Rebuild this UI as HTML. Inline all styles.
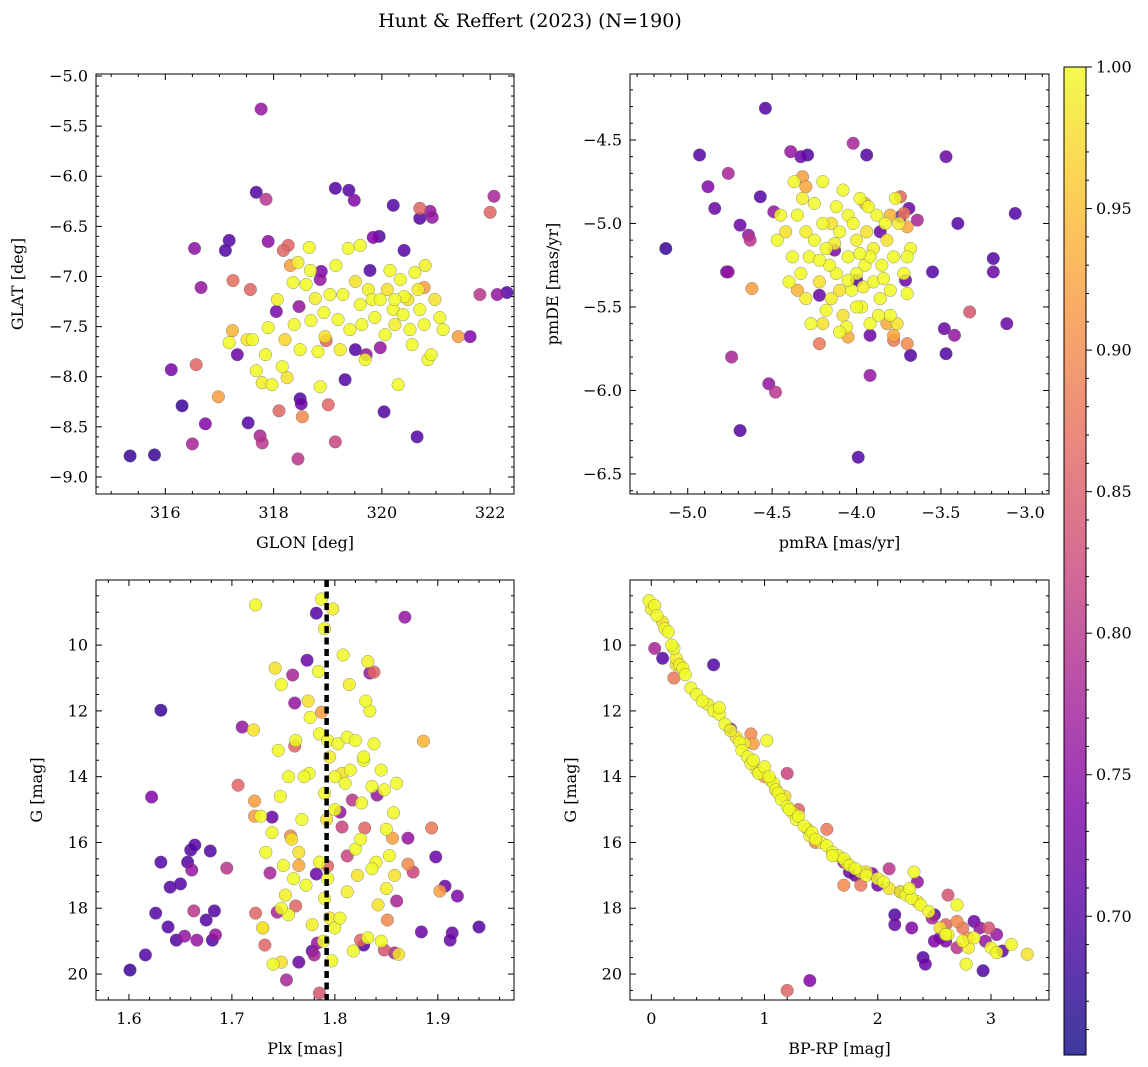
<!DOCTYPE html>
<html><head><meta charset="utf-8"><style>
html,body{margin:0;padding:0;background:#fff}
svg{display:block;font-family:"DejaVu Serif","Liberation Serif",serif}
</style></head><body>
<svg id="fig" width="1148" height="1067" viewBox="0 0 1148 1067">
<text x="530" y="27" font-size="19" text-anchor="middle">Hunt &amp; Reffert (2023) (N=190)</text>
</svg>
<script>
// ---- Panel 1: GLON vs GLAT ----
const glon=[315.35,315.80,316.11,316.31,316.54,316.57,316.50,316.66,316.74,316.98,317.18,317.11,317.25,317.24,317.18,317.33,317.53,317.57,317.68,317.77,317.86,317.75,317.79,317.90,318.05,318.10,318.45,318.49,318.51,318.53,318.47,318.27,318.31,318.88,319.14,319.01,319.14,319.39,319.49,319.84,319.95,320.21,320.41,320.70,320.89,320.93,320.70,322.07,322.00,322.13,322.31,321.81,321.63,321.41,320.65,320.04,319.32,319.51,319.97,320.78,318.97,319.71,318.86,319.78,318.18,
317.97,317.79,317.68,317.51,317.61,317.90,318.07,317.85,318.16,318.25,318.38,318.36,318.45,318.60,318.66,318.69,318.77,318.82,318.86,318.93,318.95,319.04,319.15,319.19,319.23,319.28,319.38,319.41,319.51,319.60,319.63,319.69,319.75,319.82,319.87,319.97,320.06,320.10,320.15,320.21,320.24,320.30,320.34,320.39,320.48,320.52,320.56,320.61,320.67,320.70,320.78,320.85,320.91,320.98,321.07,321.13,320.80,320.41,320.24,318.49,318.21,318.68,319.60];
const glat=[-8.79,-8.78,-7.93,-8.29,-6.72,-7.88,-8.67,-7.11,-8.47,-8.20,-6.64,-6.74,-7.04,-7.54,-7.66,-7.78,-8.46,-7.13,-6.16,-5.33,-6.23,-8.59,-8.66,-6.65,-7.35,-8.34,-8.82,-8.22,-8.27,-8.40,-7.30,-6.69,-6.89,-6.95,-8.65,-8.28,-6.12,-6.14,-6.24,-6.61,-6.60,-6.29,-6.74,-6.32,-6.35,-6.41,-6.42,-6.20,-6.36,-7.18,-7.16,-7.18,-7.60,-7.60,-8.60,-8.35,-8.03,-7.73,-7.71,-7.11,-7.64,-7.78,-7.03,-6.94,-6.74,
-8.08,-8.06,-7.94,-7.63,-7.63,-7.51,-7.23,-7.78,-7.90,-8.01,-7.48,-7.06,-6.86,-7.08,-6.71,-7.44,-7.22,-7.75,-8.10,-7.36,-7.60,-7.18,-6.89,-7.43,-7.73,-7.18,-6.72,-7.53,-7.05,-7.28,-7.48,-7.83,-7.13,-7.23,-7.41,-7.23,-7.58,-7.13,-6.94,-7.33,-7.48,-8.08,-7.03,-7.38,-7.23,-7.53,-7.68,-6.96,-7.13,-7.33,-7.48,-7.83,-7.78,-7.23,-7.41,-7.53,-6.89,-7.20,-7.23,-7.73,-7.63,-6.94,-6.69];
const prob1=[.68,.68,.73,.68,.75,.86,.78,.76,.74,.92,.7,.7,.87,.94,1,.72,.7,.86,.7,.76,.8,.78,.8,.75,.73,.86,.8,.7,.72,.9,.76,.86,.92,.74,.82,.86,.7,.7,.74,.74,.7,.7,.7,.86,.76,.76,.7,.78,.86,.76,.7,.8,.74,.92,.7,.7,.7,.7,.76,.92,.86,.76,.76,.7,.86,
1,.99,1,.98,1,1,.99,1,1,.98,1,1,.99,1,1,1,.99,1,1,1,.98,1,1,1,.99,1,1,1,.98,1,1,1,.99,1,1,1,1,.98,1,1,.99,1,1,1,.98,1,1,1,.99,1,1,1,1,.98,1,1,.99,1,1,1,.97,1,1];
// ---- Panel 2: pmRA vs pmDE ----
const pmra=[-5.13,-4.93,-4.88,-4.84,-4.77,-4.76,-4.76,-4.74,-4.69,-4.69,-4.63,-4.64,-4.57,-4.54,-4.52,-4.48,-4.49,-4.39,-4.33,-4.29,-4.02,-3.94,-3.99,-3.92,-3.55,-3.48,-3.47,-3.42,-3.47,-3.40,-3.19,-3.19,-3.11,-3.06,-3.33,-4.62,-4.22,-3.78,-3.70,-3.68,-3.74,-3.72,-3.74,-3.69,-3.71,-3.78,-3.64,-4.0,-4.22,-4.13,-3.86,-3.92,
-4.35,-4.3,-4.28,-4.25,-4.22,-4.2,-4.2,-4.18,-4.15,-4.12,-4.12,-4.1,-4.08,-4.05,-4.05,-4.03,-4.0,-4.0,-3.98,-3.97,-3.95,-3.94,-3.92,-3.9,-3.9,-3.88,-3.86,-3.85,-3.82,-3.8,-3.8,-3.78,-3.75,-3.72,-3.7,-3.68,-4.38,-4.42,-4.4,-4.33,-4.3,-4.27,-4.25,-4.18,-4.15,-4.08,-4.06,-4.02,-3.96,-3.93,-3.87,-3.84,-3.92,-4.1,-4.16,-4.22,-4.32,-4.47,-4.45,-4.37,-3.76,-3.77,-3.7,-4.0,-4.13,-3.98,-4.05,-3.83,-4.2,-4.1,
-4.32,-4.3,-4.35,-4.05,-3.8,-3.82,-3.95,-3.7];
const pmde=[-5.15,-4.59,-4.78,-4.91,-5.29,-5.29,-4.70,-5.80,-5.01,-6.24,-5.10,-5.07,-4.84,-4.31,-5.96,-6.01,-4.93,-4.57,-4.60,-4.59,-4.52,-4.59,-6.40,-5.91,-5.29,-5.63,-5.78,-5.67,-4.60,-5.00,-5.21,-5.29,-5.60,-4.94,-5.53,-5.39,-5.72,-5.70,-5.72,-5.79,-4.84,-4.94,-4.96,-4.91,-5.34,-5.67,-4.98,-5.34,-5.43,-5.16,-5.05,-5.67,
-4.95,-5.05,-5.2,-4.88,-5.35,-5.0,-4.75,-5.15,-5.45,-5.3,-4.9,-5.05,-5.55,-5.2,-4.95,-5.4,-5.1,-5.3,-4.85,-5.5,-5.25,-5.05,-5.6,-5.35,-5.15,-4.95,-5.45,-5.25,-5.1,-5.4,-5.55,-5.2,-5.0,-5.3,-5.42,-5.15,-5.2,-5.05,-5.35,-5.3,-5.45,-5.6,-5.1,-5.52,-5.0,-4.8,-5.62,-5.0,-5.38,-4.9,-5.55,-5.33,-5.2,-5.4,-5.25,-5.22,-4.85,-5.1,-4.95,-4.75,-5.6,-4.85,-5.2,-5.5,-5.12,-5.18,-5.34,-5.0,-5.6,-5.65,
-4.72,-4.78,-5.4,-5.68,-4.95,-5.6,-4.88,-5.02];
const prob2=[.68,.7,.74,.72,.72,.76,.78,.78,.72,.7,.8,.76,.7,.7,.76,.8,.76,.76,.72,.7,.78,.7,.7,.76,.7,.72,.7,.76,.72,.7,.7,.72,.72,.7,.84,.92,.88,.88,.9,.7,.86,.88,.7,.72,.72,.93,.78,.7,.72,.74,.72,.72,
1,.99,1,1,.98,1,1,1,.99,1,1,1,.98,1,1,1,.99,1,1,1,1,.98,1,1,.99,1,1,1,.98,1,1,1,.99,1,1,1,1,.98,1,1,.99,1,1,1,.98,1,1,1,.99,1,1,1,1,.98,1,1,.99,1,1,1,.98,1,1,1,.99,1,1,1,.98,1,
.92,.93,.94,.93,.94,.93,.94,.93];
// ---- Panel 3: Plx vs G ----
const plx=[1.601,1.616,1.622,1.631,1.626,1.631,1.638,1.640,1.646,1.650,1.654,1.657,1.660,1.661,1.663,1.664,1.666,1.675,1.679,1.681,1.683,1.684,1.695,1.710,1.706,1.722,1.722,1.723,1.721,1.723,1.732,1.737,1.739,1.744,1.748,1.753,1.759,1.761,
1.868,1.886,1.871,1.894,1.876,1.871,1.898,1.902,1.907,1.884,1.914,1.912,1.919,1.940,1.860,1.851,1.856,1.841,1.834,1.838,1.848,1.858,1.812,1.825,1.828,1.829,1.817,1.785,1.778,1.780,1.783,1.773,1.782,1.807,1.762,1.765,1.782,1.793,1.805,1.787,1.761,
1.787,1.798,1.79,1.784,1.774,1.776,1.785,1.793,1.795,1.8,1.79,1.8,1.792,1.785,1.793,1.79,1.795,1.8,1.789,1.797,1.803,1.807,1.81,1.812,1.814,1.808,1.815,1.82,1.822,1.825,1.826,1.828,1.832,1.834,1.836,1.838,1.84,1.842,1.845,1.848,1.85,1.853,1.857,1.86,1.862,1.845,1.832,1.818,1.812,1.805,1.775,1.77,1.768,1.765,1.76,1.755,1.752,1.75,1.747,1.745,1.742,1.748,1.739,1.733,1.73,1.728,1.755,1.762,1.758,1.74,1.748,1.772,1.778,1.82,1.83,1.836,1.85,1.858,1.828,
1.73,1.765,1.757];
const gmag3=[19.88,19.42,14.62,11.98,18.15,16.6,18.57,17.36,18.97,17.26,18.85,16.6,16.23,16.84,18.08,16.08,18.97,18.36,16.26,18.97,18.08,18.81,16.78,12.49,14.26,14.74,15.2,8.78,12.58,18.15,19.12,16.93,15.23,18.12,19.64,20.18,10.91,13.07,
9.15,12.92,15.87,15.56,16.9,16.66,16.44,17.48,17.33,18.72,18.75,18.97,17.63,18.57,17.78,18.36,15.87,14.56,10.85,10.82,19.27,19.36,16.41,18.97,19.12,15.56,14.71,20.58,19.3,19.42,19.06,10.46,9.03,15.53,17.93,19.64,16.96,16.72,15.08,12.04,11.76,
8.6,8.9,9.5,10.8,11.7,12.2,12.7,12.9,13.4,14.0,14.5,15.0,15.3,16.6,17.1,17.7,18.3,18.6,19.0,19.6,13.0,13.9,14.2,12.8,11.2,10.3,13.8,16.2,17.0,15.9,14.8,13.5,10.5,12.0,14.3,13.0,16.6,17.9,13.8,14.4,17.4,16.4,15.1,14.2,19.4,19.0,18.9,19.3,17.5,18.3,13.9,14.0,15.3,16.3,17.1,18.2,17.6,16.7,14.6,13.2,10.7,11.2,15.7,16.3,18.6,15.2,14.0,12.9,15.9,19.7,18.0,17.3,18.5,12.9,11.7,16.8,15.6,17.0,13.4,
18.6,16.7,15.8];
const prob3=[.68,.7,.74,.68,.7,.7,.7,.7,.7,.7,.76,.7,.7,.76,.8,.7,.76,.7,.7,.7,.7,.76,.8,.76,.86,.92,.92,1,.98,.86,.86,.78,.72,.78,.98,.78,.78,.86,
.76,.94,.76,.88,.82,.9,.72,.92,.72,.72,.72,.72,.74,.7,.78,.9,.92,.76,.76,.86,.84,.78,.82,.86,.7,.86,.8,.84,.72,.78,.76,.72,.7,.82,.86,.72,.72,.86,.76,.92,.76,
1,.99,1,1,.98,1,1,1,.99,1,1,1,.98,1,1,1,.99,1,1,1,1,.98,1,1,.99,1,1,1,.98,1,1,1,.99,1,1,1,1,.98,1,1,.99,1,1,1,.98,1,1,1,.99,1,1,1,1,.98,1,1,.99,1,1,1,.98,1,1,1,.99,1,1,1,.98,1,1,1,.99,1,1,1,1,.98,1,
.92,.93,.9];
const plxMean=1.792;
// ---- Panel 4: BP-RP vs G ----
const bprp=[-0.02,0.0,0.03,0.05,0.1,0.12,0.15,0.2,0.22,0.18,0.28,0.3,0.22,0.35,0.4,0.45,0.5,0.55,0.6,0.65,0.7,0.75,0.78,0.8,0.82,0.85,0.88,0.9,0.93,0.95,1.0,1.02,1.05,1.08,1.1,1.12,1.15,1.18,1.2,1.22,1.25,1.28,1.3,1.35,1.38,1.4,1.42,1.45,1.5,1.55,1.6,1.65,1.7,1.72,1.75,1.8,1.85,1.9,2.0,2.05,2.1,2.2,2.25,2.3,2.35,2.32,2.38,2.45,2.55,2.62,2.7,2.75,2.8,2.85,3.0,3.05,3.18,3.32,2.78,2.6,0.25,0.6,1.04,1.6,1.9,2.28,
0.03,0.1,0.2,0.55,0.7,1.1,1.2,1.3,1.45,1.55,1.7,1.75,1.7,1.8,1.95,2.0,2.1,2.2,2.15,2.15,2.35,2.4,2.42,2.5,2.55,2.6,2.62,2.7,2.75,2.8,2.85,2.9,2.93,2.95,2.98,3.05,3.1,2.7,2.5,2.3,1.2,1.4,0.88,0.9,1.0,1.85,2.6,2.48];
const gmag4=[8.65,8.9,8.8,9.1,9.3,9.5,9.6,10.1,10.4,10.0,10.7,10.9,10.6,11.3,11.5,11.7,11.8,12.0,12.1,12.4,12.6,12.8,12.95,13.2,13.0,13.4,13.6,13.5,13.8,13.9,13.7,12.9,14.1,14.2,14.4,14.5,14.7,14.6,14.9,15.0,15.1,15.3,15.2,15.5,15.6,15.8,15.7,15.9,16.0,16.1,16.3,16.4,16.5,16.6,16.7,16.8,16.9,17.0,17.1,17.2,17.4,17.5,17.6,17.7,17.8,16.9,17.9,18.1,18.6,18.8,17.9,19.0,19.2,18.9,19.2,19.35,19.1,19.4,19.7,18.8,10.6,11.9,14.0,16.4,16.9,17.4,
10.1,10.4,11.0,10.6,12.55,14.4,13.9,15.0,16.0,15.6,16.6,16.9,17.3,17.0,16.95,17.3,16.8,17.5,18.2,18.5,17.2,19.5,19.7,18.2,18.9,19.0,17.6,18.4,18.6,18.9,18.4,18.6,19.9,19.0,18.6,18.8,19.3,19.2,19.0,18.6,20.5,20.2,12.7,13.0,14.0,17.3,18.5,18.3];
const prob4=[1,.99,1,1,.98,1,1,1,.99,1,1,1,.98,1,1,1,.99,1,1,1,1,.98,1,1,.99,1,1,1,.98,1,1,1,.99,1,1,1,1,.98,1,1,.99,1,1,1,.98,1,1,1,.99,1,1,1,1,.98,1,1,.99,1,1,1,.98,1,1,1,.99,1,1,1,.98,1,1,1,.99,1,1,1,1,.98,1,1,.99,1,1,1,.98,1,
.78,.7,.88,.7,.76,.88,.82,.86,.9,.88,.76,.72,.9,.72,.74,.72,.8,.74,.7,.72,.76,.7,.72,.7,.72,.74,.84,.9,.88,.9,.72,.76,.7,.76,.84,.76,.72,.8,.74,.74,.86,.74,.9,.92,.92,.88,.86,.78];
// ---- Colorbar ----
const cbTicks=[0.70,0.75,0.80,0.85,0.90,0.95,1.00];
const vmin=0.651, vmax=1.0;

const NS="http://www.w3.org/2000/svg";
const svg=document.getElementById('fig');
function el(tag,attrs,parent){const e=document.createElementNS(NS,tag);for(const k in attrs)e.setAttribute(k,attrs[k]);(parent||svg).appendChild(e);return e;}
const stops=[[0,[13,8,135]],[0.125,[76,2,161]],[0.25,[126,3,168]],[0.375,[169,35,149]],[0.5,[204,71,120]],[0.625,[229,107,93]],[0.75,[248,148,65]],[0.875,[253,195,40]],[1,[240,249,33]]];
function plasma(t){t=Math.max(0,Math.min(1,t));for(let i=1;i<stops.length;i++){if(t<=stops[i][0]){const a=stops[i-1],b=stops[i];const f=(t-a[0])/(b[0]-a[0]);const c=a[1].map((v,j)=>Math.round(v+(b[1][j]-v)*f));return 'rgb('+c.join(',')+')';}}return 'rgb(240,249,33)';}
function fmt(v,d){const s=Math.abs(v).toFixed(d);return (v<-1e-9?'\u2212':'')+s;}

function panel(cfg){
  const {name,L,R,T,B,xlim,ylim,yinv,xs,ys,ps,xmaj,xmin,xdec,ymaj,ymin,ydec,xlabel,ylabel,ylabX}=cfg;
  const g=el('g',{});
  
  
  const sx=v=>L+(v-xlim[0])/(xlim[1]-xlim[0])*(R-L);
  const sy=yinv?(v=>T+(v-ylim[0])/(ylim[1]-ylim[0])*(B-T)):(v=>B-(v-ylim[0])/(ylim[1]-ylim[0])*(B-T));
  const cid='clip-'+name;
  const cp=el('clipPath',{id:cid},g);el('rect',{x:L,y:T,width:R-L,height:B-T},cp);
  const pts=el('g',{'clip-path':'url(#'+cid+')'},g);
  
  
  const idx=ps.map((p,i)=>i).sort((a,b)=>ps[a]-ps[b]);
  idx.forEach(i=>{
    const c=el('circle',{cx:sx(xs[i]),cy:sy(ys[i]),r:6.3,fill:plasma((ps[i]-vmin)/(vmax-vmin)),'fill-opacity':0.85,stroke:'#666','stroke-width':0.5,'stroke-opacity':0.7},pts);
    
    
  });
  if(cfg.extra)cfg.extra(g,sx,sy);
  const ax=el('g',{stroke:'#000','stroke-width':1},g);
  
  
  el('rect',{x:L,y:T,width:R-L,height:B-T,fill:'none'},ax);
  const x0=Math.ceil(Math.min(...xlim)/xmin-1e-6), x1=Math.floor(Math.max(...xlim)/xmin+1e-6);
  for(let k=x0;k<=x1;k++){const v=k*xmin;const px=sx(v);const isMaj=Math.abs(v/xmaj-Math.round(v/xmaj))<1e-6;const len=isMaj?6:3;
    el('line',{x1:px,y1:B,x2:px,y2:B-len},ax);el('line',{x1:px,y1:T,x2:px,y2:T+len},ax);
    if(isMaj){const t=el('text',{x:px,y:B+24,'font-size':16,'text-anchor':'middle',stroke:'none',fill:'#000'},g);t.textContent=fmt(v,xdec);
      }}
  const y0=Math.ceil(Math.min(...ylim)/ymin-1e-6), y1=Math.floor(Math.max(...ylim)/ymin+1e-6);
  for(let k=y0;k<=y1;k++){const v=k*ymin;const py=sy(v);const isMaj=Math.abs(v/ymaj-Math.round(v/ymaj))<1e-6;const len=isMaj?6:3;
    el('line',{x1:L,y1:py,x2:L+len,y2:py},ax);el('line',{x1:R,y1:py,x2:R-len,y2:py},ax);
    if(isMaj){const t=el('text',{x:L-8,y:py+5.5,'font-size':16,'text-anchor':'end',stroke:'none',fill:'#000'},g);t.textContent=fmt(v,ydec);
      }}
  const xl=el('text',{x:(L+R)/2,y:B+54,'font-size':16,'text-anchor':'middle'},g);xl.textContent=xlabel;
  
  const yl=el('text',{x:ylabX,y:(T+B)/2,'font-size':16,'text-anchor':'middle',transform:'rotate(-90 '+ylabX+' '+(T+B)/2+')'},g);yl.textContent=ylabel;
  
}

panel({name:'glon-glat-panel',L:96,R:514,T:74,B:494,xlim:[314.72,322.44],ylim:[-9.17,-4.98],xs:glon,ys:glat,ps:prob1,xmaj:2,xmin:0.5,xdec:0,ymaj:0.5,ymin:0.1,ydec:1,xlabel:'GLON [deg]',ylabel:'GLAT [deg]',ylabX:23});
panel({name:'pm-panel',L:630,R:1049,T:74,B:494,xlim:[-5.342,-2.86],ylim:[-6.62,-4.105],xs:pmra,ys:pmde,ps:prob2,xmaj:0.5,xmin:0.1,xdec:1,ymaj:0.5,ymin:0.1,ydec:1,xlabel:'pmRA [mas/yr]',ylabel:'pmDE [mas/yr]',ylabX:558});
panel({name:'plx-g-panel',L:96,R:514,T:580,B:1000,xlim:[1.568,1.974],ylim:[8.02,20.79],yinv:true,xs:plx,ys:gmag3,ps:prob3,xmaj:0.1,xmin:0.02,xdec:1,ymaj:2,ymin:0.5,ydec:0,xlabel:'Plx [mas]',ylabel:'G [mag]',ylabX:42,
  extra:(g,sx,sy)=>{const l=el('line',{x1:sx(plxMean),y1:580,x2:sx(plxMean),y2:1000,stroke:'#000','stroke-width':4.5,'stroke-dasharray':'7,4.5'},g);
    }});
panel({name:'cmd-panel',L:630,R:1049,T:580,B:1000,xlim:[-0.188,3.512],ylim:[8.02,20.79],yinv:true,xs:bprp,ys:gmag4,ps:prob4,xmaj:1,xmin:0.2,xdec:0,ymaj:2,ymin:0.5,ydec:0,xlabel:'BP-RP [mag]',ylabel:'G [mag]',ylabX:576});

const cb=el('g',{});


const defs=el('defs',{},cb);const lg=el('linearGradient',{id:'cbgrad',x1:0,y1:1,x2:0,y2:0},defs);
for(let i=0;i<=20;i++){el('stop',{offset:i/20,'stop-color':plasma(i/20),'stop-opacity':0.8},lg);}
const CT=67,CB=1055,CL=1064,CR=1086;
el('rect',{x:CL,y:CT,width:CR-CL,height:CB-CT,fill:'url(#cbgrad)',stroke:'#000','stroke-width':1},cb);
const cy=v=>CB-(v-vmin)/(vmax-vmin)*(CB-CT);
for(let v=0.66;v<=1.0001;v+=0.01){const py=cy(v);const maj=Math.abs(v*20-Math.round(v*20))<1e-6;el('line',{x1:CR,y1:py,x2:CR+(maj?6:3),y2:py,stroke:'#000','stroke-width':1},cb);}
cbTicks.forEach(v=>{const t=el('text',{x:CR+10,y:cy(v)+5.5,'font-size':16},cb);t.textContent=v.toFixed(2);
  });
</script>
</body></html>
